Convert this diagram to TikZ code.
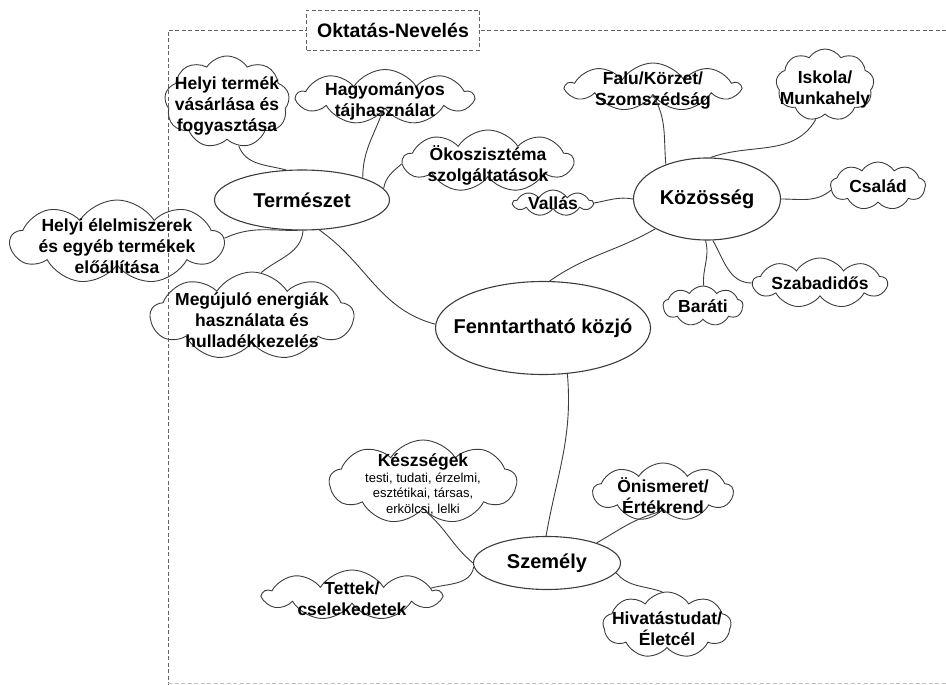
\documentclass[tikz,border=0pt]{standalone}
\usepackage{fontspec}
\setmainfont{Liberation Sans}
\usetikzlibrary{shapes}
\usepackage{xcolor}
\definecolor{linegray}{RGB}{60,60,60}
\definecolor{framegray}{RGB}{100,100,100}
\newcommand{\smalltext}{\mdseries\fontsize{13}{15.5}\selectfont}
\tikzset{mainnode/.style={ellipse, draw=linegray, line width=1.1pt, inner sep=0pt},maintext/.style={font=\bfseries\fontsize{20}{22}\selectfont, inner sep=0pt}}
\tikzset{cloudnode/.style={cloud, cloud puffs=9, cloud puff arc=115, cloud ignores aspect, draw=linegray, line width=0.9pt, inner sep=0pt},cloudtext/.style={font=\bfseries\fontsize{17.5}{21}\selectfont, align=center, inner sep=0pt},multitext/.style={cloudtext, yshift=-4pt}}

\begin{document}
\begin{tikzpicture}[
        x=1pt, y=1pt,
        link/.style={draw=linegray, line width=0.9pt},
        framebox/.style={draw=framegray, line width=0.9pt, dash pattern=on 4pt off 2.5pt}
    ]
        \useasboundingbox (0,0) rectangle (946,-685);
        % Frame
        \draw[framebox] (946,-30) -- (168,-30) -- (168,-685);
        \draw[framebox, draw=framegray!40] (168,-683) -- (946,-683);
        \node[framebox, fill=white, minimum width=173pt, minimum height=40pt, font=\bfseries\fontsize{19.5}{22}\selectfont] (okt) at (393,-30) {Oktatás-Nevelés};
        % Main nodes
        \node[mainnode, minimum width=175pt, minimum height=60pt, label={[maintext]center:Természet}] (term) at (302,-200) {};
        \node[mainnode, minimum width=147pt, minimum height=82pt, label={[maintext]center:Közösség}] (kozos) at (707,-199) {};
        \node[mainnode, minimum width=215pt, minimum height=93pt, label={[maintext]center:Fenntartható közjó}] (fenn) at (543,-328) {};
        \node[mainnode, minimum width=147pt, minimum height=53pt, label={[maintext]center:Személy}] (szem) at (547,-563) {};
        % Clouds
        \node[cloudnode, minimum width=125pt, minimum height=92pt, label={[multitext]center:{Helyi termék\\vásárlása és\\fogyasztása}}] (htermek) at (227,-102) {};
        \node[cloudnode, minimum width=176pt, minimum height=55pt, label={[multitext]center:{Hagyományos\\tájhasználat}}] (hagyom) at (385,-97) {};
        \node[cloudnode, minimum width=170pt, minimum height=62pt, label={[multitext]center:{Ökoszisztéma\\szolgáltatások}}] (okosz) at (488,-161) {};
        \node[cloudnode, minimum width=213pt, minimum height=84pt, label={[multitext]center:{Helyi élelmiszerek\\és egyéb termékek\\előállítása}}] (helyel) at (117,-242) {};
        \node[cloudnode, minimum width=203pt, minimum height=88pt, label={[multitext]center:{Megújuló energiák\\használata és\\hulladékkezelés}}] (megu) at (252,-316) {};
        \node[cloudnode, minimum width=80pt, minimum height=26pt, label={[cloudtext]center:Vallás}] (vallas) at (553,-203) {};
        \node[cloudnode, minimum width=173pt, minimum height=48pt, label={[multitext]center:{Falu/Körzet/\\Szomszédság}}] (falu) at (653,-87) {};
        \node[cloudnode, minimum width=98pt, minimum height=72pt, label={[multitext]center:{Iskola/\\Munkahely}}] (iskola) at (825,-85) {};
        \node[cloudnode, minimum width=95pt, minimum height=48pt, label={[cloudtext]center:Család}] (csalad) at (878,-186) {};
        \node[cloudnode, minimum width=134pt, minimum height=50pt, label={[cloudtext]center:Szabadidős}] (szabad) at (820,-283) {};
        \node[cloudnode, minimum width=80pt, minimum height=40pt, label={[cloudtext]center:Baráti}] (barati) at (703,-306) {};
        \node[cloudnode, minimum width=187pt, minimum height=84pt, label={[multitext]center:{Készségek\\{\smalltext\begin{tabular}{@{}c@{}}testi, tudati, érzelmi,\\esztétikai, társas,\\erkölcsi, lelki\end{tabular}}}}] (keszs) at (423,-482) {};
        \node[cloudnode, minimum width=140pt, minimum height=58pt, label={[multitext]center:{Önismeret/\\Értékrend}}] (onism) at (663,-492) {};
        \node[cloudnode, minimum width=177pt, minimum height=50pt, label={[multitext]center:{Tettek/\\cselekedetek}}] (tettek) at (352,-595) {};
        \node[cloudnode, minimum width=128pt, minimum height=66pt, label={[multitext]center:{Hivatástudat/\\Életcél}}] (hivat) at (667,-625) {};
        % Links
        \draw[link] (term.-60) to[out=-35, in=165] (fenn.178);
        \draw[link] (fenn.82) to[out=35, in=-150] (kozos.-150);
        \draw[link] (fenn.-62) to[out=-85, in=80] (szem.92);
        \draw[link] (htermek.-75) to[out=-70, in=165] (term.118);
        \draw[link] (hagyom.-100) to[out=-110, in=90] (term.20);
        \draw[link] (okosz.182) to[out=220, in=80] (term.8);
        \draw[link] (helyel.2) to[out=25, in=180] (term.-98);
        \draw[link] (term.-88) to[out=-95, in=40] (megu.78);
        \draw[link] (kozos.140) to[out=95, in=-60] (falu.-88);
        \draw[link] (kozos.85) to[out=20, in=-120] (iskola.-105);
        \draw[link] (kozos.0) to[out=0, in=-140] (csalad.185);
        \draw[link] (kozos.180) to[out=170, in=10] (vallas.0);
        \draw[link] (kozos.-92) to[out=-75, in=95] (barati.88);
        \draw[link] (kozos.-82) to[out=-60, in=180] (szabad.180);
        \draw[link] (szem.180) to[out=140, in=-40] (keszs.-85);
        \draw[link] (szem.183) to[out=-100, in=15] (tettek.5);
        \draw[link] (szem.22) to[out=30, in=195] (onism.-95);
        \draw[link] (szem.-8) to[out=-50, in=160] (hivat.98);
    \end{tikzpicture}
\end{document}
